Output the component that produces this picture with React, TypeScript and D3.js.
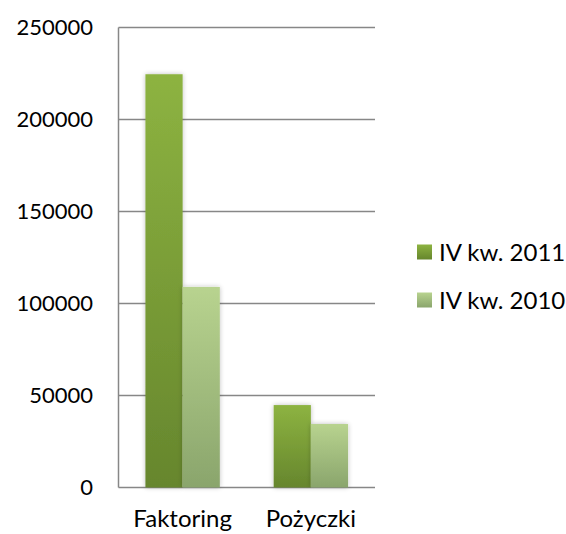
import * as d3 from 'd3';

// values
const categories = ['Faktoring', 'Pożyczki'];
const seriesNames = ['IV kw. 2011', 'IV kw. 2010'];
const values2011 = [224600, 44800];
const values2010 = [109000, 34500];
const yTicks = [0, 50000, 100000, 150000, 200000, 250000];

const gradients = [
  { id: 'g2011', top: '#8db341', bottom: '#66862d' },
  { id: 'g2010', top: '#b8d38f', bottom: '#8aa56c' },
];

export default function App() {
  const width = 566;
  const height = 534;
  const left = 118.5;
  const right = 375;
  const top = 27.5;
  const bottom = 487.5;
  const font = 'Lato, "Open Sans", sans-serif';

  const x = d3.scaleBand().domain(categories).range([left, right]).paddingInner(0.42).paddingOuter(0.21);
  const xs = d3.scaleBand().domain(seriesNames).range([0, x.bandwidth()]);
  const y = d3.scaleLinear().domain([0, 250000]).range([bottom, top]);

  const series = [values2011, values2010];

  return (
    <svg width={width} height={height} style={{ position: 'absolute', left: 0, top: 0 }}>
      <defs>
        {gradients.map((g) => (
          <linearGradient key={g.id} id={g.id} x1="0" y1="0" x2="0" y2="1">
            <stop offset="0" stopColor={g.top} />
            <stop offset="1" stopColor={g.bottom} />
          </linearGradient>
        ))}
        <filter id="shadow" x="-30%" y="-10%" width="160%" height="120%">
          <feGaussianBlur in="SourceAlpha" stdDeviation="2.5" />
          <feComponentTransfer>
            <feFuncA type="linear" slope="0.25" />
          </feComponentTransfer>
          <feMerge>
            <feMergeNode />
            <feMergeNode in="SourceGraphic" />
          </feMerge>
        </filter>
      </defs>
      {yTicks.map((t) => (
        <g key={t}>
          <line x1={left} x2={right} y1={y(t)} y2={y(t)} stroke="#878787" strokeWidth={1.5} />
          <text x={93} y={y(t)} dy="0.36em" textAnchor="end" fontFamily={font} fontSize={22} fill="#000">
            {t}
          </text>
        </g>
      ))}
      <line x1={left} x2={left} y1={top} y2={bottom} stroke="#878787" strokeWidth={1.5} />
      {series.map((vals, si) =>
        categories.map((c, ci) => (
          <rect
            key={c + si}
            x={(x(c) as number) + (xs(seriesNames[si]) as number)}
            y={y(vals[ci])}
            width={xs.bandwidth()}
            height={bottom - y(vals[ci])}
            fill={`url(#${gradients[si].id})`}
            filter="url(#shadow)"
          />
        ))
      )}
      {categories.map((c) => (
        <text
          key={c}
          x={(x(c) as number) + x.bandwidth() / 2}
          y={527}
          textAnchor="middle"
          fontFamily={font}
          fontSize={24}
          fill="#000"
        >
          {c}
        </text>
      ))}
      {seriesNames.map((s, i) => (
        <g key={s} transform={`translate(417,${252 + i * 48})`}>
          <rect x={0} y={-7.5} width={15} height={15} fill={`url(#${gradients[i].id})`} />
          <text x={22} y={0} dy="0.36em" fontFamily={font} fontSize={24} fill="#000">
            {s}
          </text>
        </g>
      ))}
    </svg>
  );
}
